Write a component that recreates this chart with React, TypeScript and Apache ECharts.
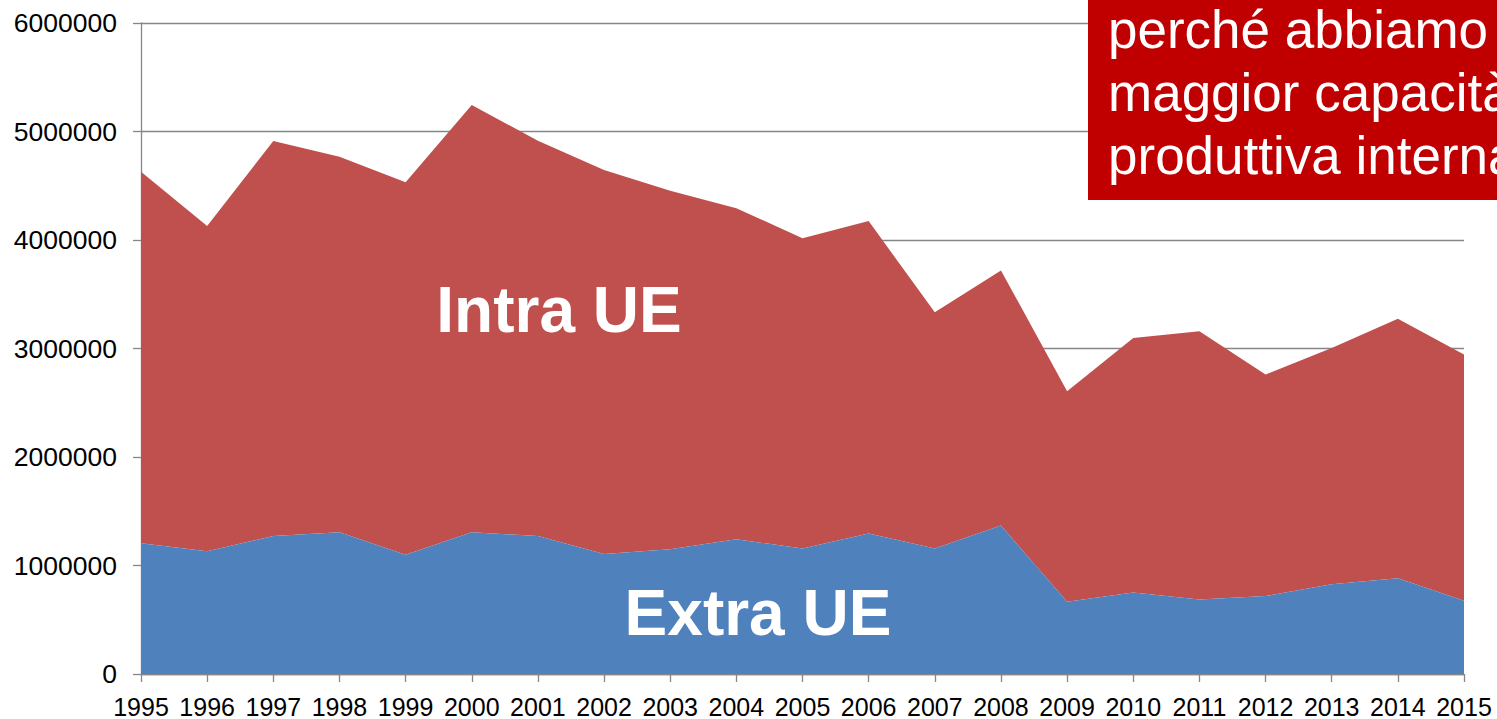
import React, { useEffect, useRef } from "react";
import * as echarts from "echarts";

const years = ["1995","1996","1997","1998","1999","2000","2001","2002","2003","2004","2005","2006","2007","2008","2009","2010","2011","2012","2013","2014","2015"];
const extraUE = [1205000,1132000,1272000,1306000,1098000,1306000,1272000,1107000,1150000,1242000,1156000,1294000,1156000,1368000,665000,751000,687000,718000,828000,883000,674000];
const intraUE = [3425000,2996000,3641000,3462000,3434000,3938000,3643000,3539000,3303000,3051000,2861000,2880000,2177000,2352000,1942000,2346000,2471000,2042000,2177000,2392000,2270000];
const yTicks = { min: 0, max: 6000000, interval: 1000000 };
const boxLines = ["perché abbiamo", "maggior capacità", "produttiva interna"];

const FONT = "'Liberation Sans', Arial, sans-serif";

export default function App() {
  const ref = useRef<HTMLDivElement>(null);
  useEffect(() => {
    document.body.style.margin = "0";
    const chart = echarts.init(ref.current!, null, { renderer: "svg" });
    chart.setOption({
      animation: false,
      grid: { left: 141, right: 33, top: 23, bottom: 44, containLabel: false },
      xAxis: {
        type: "category",
        data: years,
        boundaryGap: false,
        axisLine: { lineStyle: { color: "#868686", width: 1.3 } },
        axisTick: { show: true, length: 8, lineStyle: { color: "#868686", width: 1.3 } },
        axisLabel: { color: "#000", fontFamily: FONT, fontSize: 25, margin: 20, interval: 0 },
      },
      yAxis: {
        type: "value",
        min: yTicks.min,
        max: yTicks.max,
        interval: yTicks.interval,
        axisLine: { show: true, lineStyle: { color: "#868686", width: 1.3 } },
        axisTick: { show: true, length: 8, lineStyle: { color: "#868686", width: 1.3 } },
        axisLabel: {
          color: "#000",
          fontFamily: FONT,
          fontSize: 26.5,
          margin: 24,
          formatter: (v: number) => String(v),
        },
        splitLine: { show: true, lineStyle: { color: "#868686", width: 1.3 } },
      },
      series: [
        {
          name: "Extra UE",
          type: "line",
          stack: "total",
          data: extraUE,
          symbol: "none",
          lineStyle: { width: 0 },
          areaStyle: { color: "#4F81BD", opacity: 1 },
          z: 3,
        },
        {
          name: "Intra UE",
          type: "line",
          stack: "total",
          data: intraUE,
          symbol: "none",
          lineStyle: { width: 0 },
          areaStyle: { color: "#C0504D", opacity: 1 },
          z: 2,
        },
      ],
      graphic: [
        {
          type: "text",
          x: 559,
          y: 309.5,
          style: {
            text: "Intra UE",
            fill: "#fff",
            font: `bold 64px ${FONT}`,
            textAlign: "center",
            textVerticalAlign: "middle",
          },
          z: 100,
        },
        {
          type: "text",
          x: 758,
          y: 613,
          style: {
            text: "Extra UE",
            fill: "#fff",
            font: `bold 64px ${FONT}`,
            textAlign: "center",
            textVerticalAlign: "middle",
          },
          z: 100,
        },
        {
          type: "rect",
          shape: { x: 1088, y: -10, width: 430, height: 210 },
          style: { fill: "#C00000" },
          z: 100,
        },
        {
          type: "text",
          x: 1108,
          y: -2,
          style: {
            text: boxLines.join("\n"),
            fill: "#fff",
            font: `53px ${FONT}`,
            lineHeight: 63,
            textAlign: "left",
            textVerticalAlign: "top",
          },
          z: 101,
        },
      ],
    });
    return () => chart.dispose();
  }, []);
  return <div ref={ref} style={{ width: 1497, height: 719 }} />;
}
